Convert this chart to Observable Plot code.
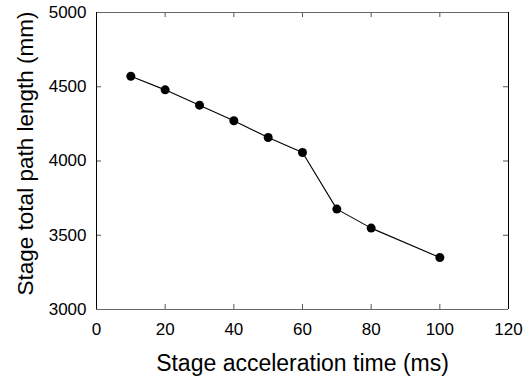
<!DOCTYPE html>
<html>
<head>
<meta charset="utf-8">
<script src="https://cdn.jsdelivr.net/npm/d3@7"></script>
<script src="https://cdn.jsdelivr.net/npm/@observablehq/plot@0.6"></script>
<style>
  html, body { margin: 0; padding: 0; background: #fff; }
  #chart { width: 532px; height: 378px; }
</style>
</head>
<body>
<div id="chart"></div>
<script>
const accelTime = [10, 20, 30, 40, 50, 60, 70, 80, 100];
const pathLength = [4571, 4479, 4376, 4271, 4158, 4057, 3676, 3548, 3350];
const xTicks = [0, 20, 40, 60, 80, 100, 120];
const yTicks = [3000, 3500, 4000, 4500, 5000];
const xLabel = "Stage acceleration time (ms)";
const yLabel = "Stage total path length (mm)";

const data = accelTime.map((t, i) => ({t, len: pathLength[i]}));
const innerTicksX = xTicks.slice(1, -1);
const innerTicksY = yTicks.slice(1, -1);

const chart = Plot.plot({
  width: 532,
  height: 378,
  marginLeft: 96,
  marginRight: 24,
  marginTop: 12,
  marginBottom: 69,
  style: {fontFamily: "'Liberation Sans', Arial, sans-serif", background: "#fff", color: "#000"},
  x: {domain: [0, 120]},
  y: {domain: [3000, 5000]},
  marks: [
    Plot.axisX(xTicks, {tickSize: 0, tickPadding: 13, fontSize: 17, label: null, fill: "#000", tickFormat: d => String(d)}),
    Plot.axisY(yTicks, {tickSize: 0, tickPadding: 10, fontSize: 17, label: null, fill: "#000", tickFormat: d => String(d)}),
    // inward ticks
    Plot.tickX(innerTicksX, {x: d => d, insetTop: 292, stroke: "#555"}),
    Plot.tickX(innerTicksX, {x: d => d, insetBottom: 292, stroke: "#555"}),
    Plot.tickY(innerTicksY, {y: d => d, insetRight: 407, stroke: "#555"}),
    Plot.tickY(innerTicksY, {y: d => d, insetLeft: 407, stroke: "#555"}),
    // frame
    Plot.ruleY([3000, 5000], {stroke: "#666"}),
    Plot.ruleX([0, 120], {stroke: "#000"}),
    Plot.line(data, {x: "t", y: "len", stroke: "#000", strokeWidth: 1.1}),
    Plot.dot(data, {x: "t", y: "len", r: 4.5, fill: "#000", stroke: "none"}),
    Plot.text([xLabel], {frameAnchor: "bottom", textAnchor: "middle", lineAnchor: "middle", dy: 54.5, fontSize: 23, fill: "#000", text: d => d}),
    Plot.text([yLabel], {frameAnchor: "left", textAnchor: "middle", lineAnchor: "middle", dx: -70.5, dy: -7.5, rotate: -90, fontSize: 22.5, fill: "#000", text: d => d})
  ]
});
document.getElementById("chart").appendChild(chart);
</script>
</body>
</html>
